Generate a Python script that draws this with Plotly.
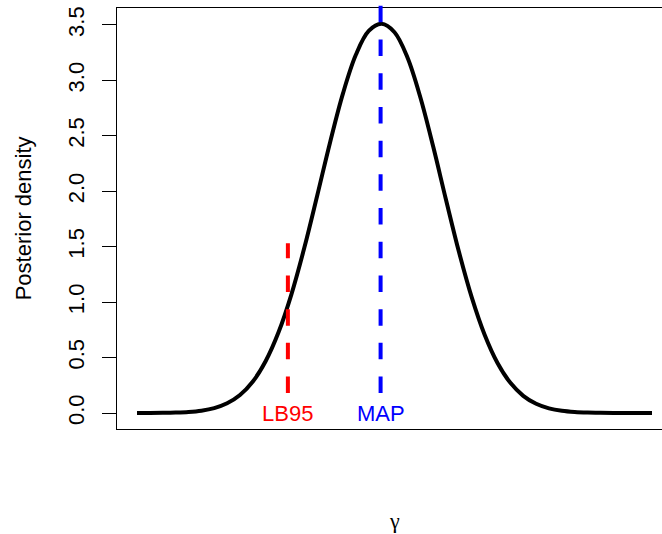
import plotly.graph_objects as go

# Posterior density curve (values on a regular grid of gamma)
gamma = [0.000, 0.025, 0.050, 0.075, 0.100, 0.125, 0.150, 0.175, 0.200, 0.225,
         0.250, 0.275, 0.300, 0.325, 0.350, 0.375, 0.400, 0.425, 0.450, 0.475,
         0.500, 0.525, 0.550, 0.575, 0.600, 0.625, 0.650, 0.675, 0.700, 0.725,
         0.750, 0.775, 0.800, 0.825, 0.850, 0.875, 0.900, 0.925, 0.950, 0.975,
         1.000]
density = [0.0002, 0.0006, 0.0016, 0.0040, 0.0095, 0.0212, 0.0444, 0.0874, 0.162, 0.284,
           0.469, 0.730, 1.073, 1.492, 1.962, 2.443, 2.883, 3.231, 3.446, 3.510,
           3.434, 3.208, 2.850, 2.405, 1.923, 1.456, 1.043, 0.706, 0.451, 0.272,
           0.155, 0.083, 0.042, 0.020, 0.0089, 0.0037, 0.0015, 0.0006, 0.0002, 0.0001,
           0.0000]

LB95 = 0.293
MAP = 0.473
marker_labels = ["LB95", "MAP"]
marker_colors = ["#FF0000", "#0000FF"]
seg_bottom = 0.18
seg_tops = [1.53, 3.8]

y_ticks = [0.0, 0.5, 1.0, 1.5, 2.0, 2.5, 3.0, 3.5]
y_ticktext = ["0.0", "0.5", "1.0", "1.5", "2.0", "2.5", "3.0", "3.5"]
Y_RANGE = [-0.1443, 3.653]
X_RANGE = [-0.0388, 1.0194]

FONT = "Liberation Sans, Arial, Helvetica, sans-serif"
FS = 22


def y_to_paper(v):
    return (v - Y_RANGE[0]) / (Y_RANGE[1] - Y_RANGE[0])


fig = go.Figure()
fig.add_trace(go.Scatter(
    x=gamma, y=density, mode="lines",
    line=dict(color="black", width=4, shape="spline", smoothing=1.0),
    showlegend=False, hoverinfo="skip"))

shapes = []
annotations = []
for xv, lab, col, top in zip([LB95, MAP], marker_labels, marker_colors, seg_tops):
    # vertical dashed segment; y given in paper units (converted from data)
    # so the MAP line can run past the top of the box as in R with xpd
    shapes.append(dict(type="line", xref="x", yref="paper", x0=xv, x1=xv,
                       y0=y_to_paper(seg_bottom), y1=y_to_paper(top),
                       line=dict(color=col, width=4, dash="16.5px,17.2px")))
    annotations.append(dict(x=xv, y=0, xref="x", yref="y", text=lab,
                            showarrow=False, xanchor="center", yanchor="middle",
                            font=dict(family=FONT, size=FS, color=col)))

annotations.append(dict(x=-0.171, y=0.5, xref="paper", yref="paper",
                        text="Posterior density", textangle=-90, showarrow=False,
                        xanchor="center", yanchor="middle",
                        font=dict(family=FONT, size=FS, color="black")))
annotations.append(dict(x=0.509, y=-0.218, xref="paper", yref="paper",
                        text="γ", showarrow=False,
                        xanchor="center", yanchor="middle",
                        font=dict(family="Liberation Serif, DejaVu Serif, serif", size=22, color="black")))

fig.update_layout(
    width=662, height=534,
    margin=dict(l=117, r=0, t=8, b=105),
    paper_bgcolor="white", plot_bgcolor="white",
    shapes=shapes, annotations=annotations,
    xaxis=dict(range=X_RANGE, showgrid=False, zeroline=False,
               showticklabels=False, ticks="", showline=True, mirror=True,
               linecolor="black", linewidth=1),
    yaxis=dict(range=Y_RANGE, showgrid=False, zeroline=False,
               tickvals=y_ticks, ticktext=y_ticktext, ticks="outside",
               ticklen=14, tickcolor="black", tickwidth=1, tickangle=-90,
               ticklabelstandoff=9,
               tickfont=dict(family=FONT, size=FS, color="black"),
               showline=True, mirror=False, linecolor="black", linewidth=1),
)

fig.write_html("out.html", config={"displayModeBar": False},
               post_script="document.body.style.margin='0';document.body.style.padding='0';")
